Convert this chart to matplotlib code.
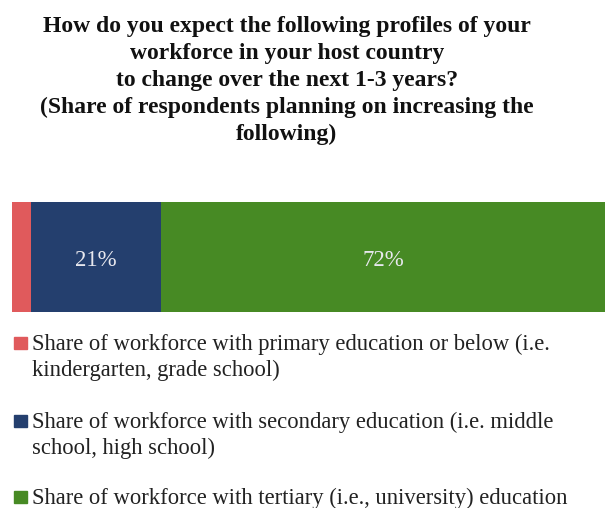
import matplotlib.pyplot as plt
from matplotlib.patches import Rectangle

# share of respondents planning to increase each workforce profile (%)
categories = [
    "Share of workforce with primary education or below (i.e.\nkindergarten, grade school)",
    "Share of workforce with secondary education (i.e. middle\nschool, high school)",
    "Share of workforce with tertiary (i.e., university) education",
]
shares = [3, 21, 72]
show_label = [False, True, True]
colors = ["#E05A5C", "#243F6E", "#478A24"]

title = ("How do you expect the following profiles of your\n"
         "workforce in your host country\n"
         "to change over the next 1-3 years?\n"
         "(Share of respondents planning on increasing the\n"
         "following)")

plt.rcParams['font.family'] = ['Liberation Serif', 'DejaVu Serif']

W, H = 605, 508
fig = plt.figure(figsize=(W / 100, H / 100), dpi=100)

# axes placed in pixel terms: bar spans x 12..605, y 202..312
ax = fig.add_axes([12 / W, 1 - 312 / H, (W - 12) / W, 110 / H])
left = 0
for val, col, lab in zip(shares, colors, show_label):
    ax.barh(0, val, left=left, color=col, height=1.0)
    if lab:
        ax.text(left + val / 2, -0.03, "%d%%" % val, ha="center", va="center",
                color="#E8E8EE", fontsize=16.5)
    left += val
ax.set_xlim(0, 95.8)
ax.set_ylim(-0.5, 0.5)
ax.axis("off")

# title, one line at a time so the spacing is fixed in pixels
for i, line in enumerate(title.split("\n")):
    fig.text(287 / W, 1 - (32 + 27 * i) / H, line, ha="center",
             va="baseline", fontsize=17, fontweight="bold", color="#111111")

# legend drawn by hand so the swatch sits on the first line of each entry
baselines = [350, 428, 504]
line_gap = 26
for cat, col, y in zip(categories, colors, baselines):
    fig.add_artist(Rectangle((14 / W, 1 - (y - 1) / H), 13 / W, 12 / H,
                             color=col, transform=fig.transFigure))
    for i, line in enumerate(cat.split("\n")):
        fig.text(32 / W, 1 - (y + i * line_gap) / H, line, ha="left",
                 va="baseline", fontsize=16.3, color="#222222")

fig.savefig("out.png", dpi=100)
